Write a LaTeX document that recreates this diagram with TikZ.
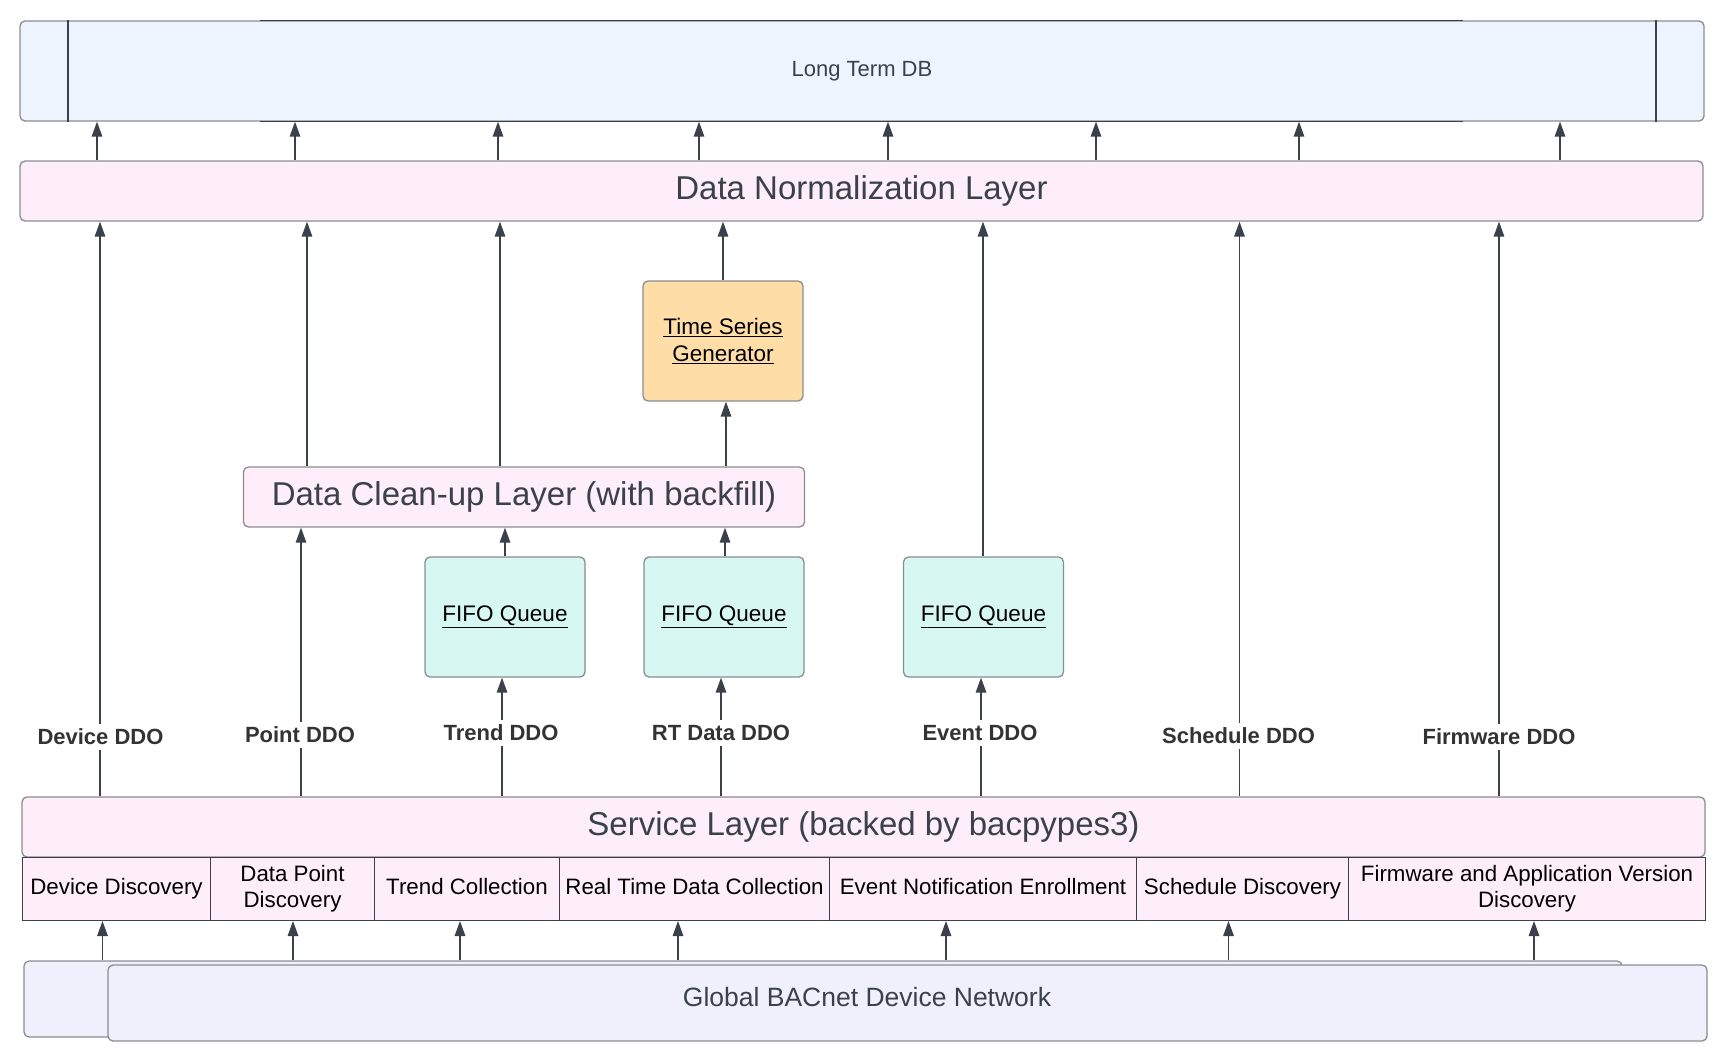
\documentclass[tikz,border=0pt]{standalone}
\usepackage{fontspec}
\setmainfont{Liberation Sans}
\usetikzlibrary{arrows.meta}
\definecolor{ltdbfill}{HTML}{EDF4FE}
\definecolor{pinkfill}{HTML}{FEEEF9}
\definecolor{tsgfill}{HTML}{FFDDA6}
\definecolor{fifofill}{HTML}{D6F7F2}
\definecolor{netfill}{HTML}{F0F0FC}
\definecolor{boxgray}{HTML}{8A8D92}
\definecolor{dkline}{HTML}{3A414A}
\definecolor{arrcol}{HTML}{3A414A}
\definecolor{txtdark}{HTML}{3A414A}
\definecolor{lbltxt}{HTML}{333333}
\begin{document}
\begin{tikzpicture}[x=1pt,y=-1pt,
  box/.style={draw=boxgray, line width=1.3pt, rounded corners=5pt, inner sep=0pt},
  layer/.style={box, fill=pinkfill, text=txtdark},
  queue/.style={box, fill=fifofill, minimum width=160pt, minimum height=120pt, font=\fontsize{22.5}{27}\selectfont, align=center},
  sub/.style={draw=dkline, line width=1pt, fill=pinkfill, inner sep=0pt, anchor=north west, minimum height=63pt, font=\fontsize{22.3}{26}\selectfont, align=center},
  oneline/.style={text height=16.2pt, text depth=4.8pt},
  arr/.style={draw=arrcol, line width=1.4pt, -{Triangle[width=10.5pt,length=15pt]}},
  ddo/.style={fill=white, inner xsep=2pt, inner ysep=5pt, text=lbltxt, font=\bfseries\fontsize{22}{26}\selectfont},
  darkedge/.style={draw=dkline, line width=1.3pt},
]
\useasboundingbox (0,0) rectangle (1726,1060);

% ---- Long Term DB
\node[box, fill=ltdbfill, minimum width=1684pt, minimum height=100pt, text=txtdark, font=\fontsize{22}{26}\selectfont] (ltdb) at (862,71) {Long Term DB};
\draw[darkedge] (68,0 |- ltdb.north) -- (68,0 |- ltdb.south);
\draw[darkedge] (1656,0 |- ltdb.north) -- (1656,0 |- ltdb.south);
\draw[darkedge] (260,0 |- ltdb.north) -- (1463,0 |- ltdb.north);
\draw[darkedge] (260,0 |- ltdb.south) -- (1463,0 |- ltdb.south);

% ---- Data Normalization Layer
\node[layer, minimum width=1683pt, minimum height=60pt, font=\fontsize{33}{38}\selectfont] (dnl) at (861.5,191) {Data Normalization Layer};

% ---- Time Series Generator
\node[box, fill=tsgfill, minimum width=160pt, minimum height=120pt, align=center, font=\fontsize{22.5}{27}\selectfont] (tsg) at (723,341) {\underline{Time Series}\\\underline{Generator}};

% ---- Data Clean-up Layer
\node[layer, minimum width=561pt, minimum height=60pt, font=\fontsize{33}{38}\selectfont] (clean) at (524,497) {Data Clean-up Layer (with backfill)};

% ---- FIFO queues
\node[queue] (fifo1) at (505,617) {\underline{FIFO Queue}};
\node[queue] (fifo2) at (724,617) {\underline{FIFO Queue}};
\node[queue] (fifo3) at (983.5,617) {\underline{FIFO Queue}};

% ---- Service layer
\node[layer, minimum width=1683pt, minimum height=60pt, font=\fontsize{33}{38}\selectfont] (svc) at (863.5,827) {Service Layer (backed by bacpypes3)};

% ---- Sub-boxes
\node[sub, oneline, minimum width=188pt] (sDev) at (22,857) {Device Discovery};
\node[sub, minimum width=164pt] (sPoint) at (210,857) {Data Point\\Discovery};
\node[sub, oneline, minimum width=185pt] (sTrend) at (374,857) {Trend Collection};
\node[sub, oneline, minimum width=270pt] (sRT) at (559,857) {Real Time Data Collection};
\node[sub, oneline, minimum width=307pt] (sEvt) at (829,857) {Event Notification Enrollment};
\node[sub, oneline, minimum width=212pt] (sSch) at (1136,857) {Schedule Discovery};
\node[sub, minimum width=357pt] (sFw) at (1348,857) {Firmware and Application Version\\Discovery};

% ---- Global BACnet Device Network
\node[box, fill=netfill, minimum width=1598pt, minimum height=76pt] (netback) at (823,999) {};
\node[box, fill=netfill, minimum width=1599pt, minimum height=76pt] (net) at (907.5,1003) {};
\node[text=txtdark, font=\fontsize{26.5}{30}\selectfont, inner sep=0pt] (netText) at (867,997) {Global BACnet Device Network};

% ---- DNL -> Long Term DB
\foreach \xx in {97,295,498,699,888,1096,1299,1560}
  \draw[arr] (\xx,0 |- dnl.north) -- (\xx,0 |- ltdb.south);

% ---- Network -> service sub-boxes
\draw[arr] (102.5,0 |- netback.north) -- (102.5,0 |- sDev.south);
\draw[arr] (293,0 |- netback.north) -- (293,0 |- sPoint.south);
\draw[arr] (460,0 |- netback.north) -- (460,0 |- sTrend.south);
\draw[arr] (678,0 |- netback.north) -- (678,0 |- sRT.south);
\draw[arr] (946,0 |- netback.north) -- (946,0 |- sEvt.south);
\draw[arr] (1228.5,0 |- netback.north) -- (1228.5,0 |- sSch.south);
\draw[arr] (1534,0 |- netback.north) -- (1534,0 |- sFw.south);

% ---- Device DDO
\draw[arr] (100,0 |- svc.north) -- (100,0 |- dnl.south);
% ---- Point DDO
\draw[arr] (301,0 |- svc.north) -- (301,0 |- clean.south);
\draw[arr] (307,0 |- clean.north) -- (307,0 |- dnl.south);
% ---- Trend DDO
\draw[arr] (502,0 |- svc.north) -- (502,0 |- fifo1.south);
\draw[arr] (505,0 |- fifo1.north) -- (505,0 |- clean.south);
\draw[arr] (500,0 |- clean.north) -- (500,0 |- dnl.south);
% ---- RT Data DDO
\draw[arr] (721,0 |- svc.north) -- (721,0 |- fifo2.south);
\draw[arr] (725,0 |- fifo2.north) -- (725,0 |- clean.south);
\draw[arr] (726,0 |- clean.north) -- (726,0 |- tsg.south);
\draw[arr] (723,0 |- tsg.north) -- (723,0 |- dnl.south);
% ---- Event DDO
\draw[arr] (981,0 |- svc.north) -- (981,0 |- fifo3.south);
\draw[arr] (983,0 |- fifo3.north) -- (983,0 |- dnl.south);
% ---- Schedule DDO
\draw[arr] (1239.5,0 |- svc.north) -- (1239.5,0 |- dnl.south);
% ---- Firmware DDO
\draw[arr] (1499,0 |- svc.north) -- (1499,0 |- dnl.south);

% ---- connector labels
\node[ddo] (lDev) at (100.5,737) {Device DDO};
\node[ddo] (lPoint) at (300,735) {Point DDO};
\node[ddo] (lTrend) at (501,733) {Trend DDO};
\node[ddo] (lRT) at (721,733) {RT Data DDO};
\node[ddo] (lEvt) at (980,733) {Event DDO};
\node[ddo] (lSch) at (1238.5,736) {Schedule DDO};
\node[ddo] (lFw) at (1499,737) {Firmware DDO};
\end{tikzpicture}
\end{document}
